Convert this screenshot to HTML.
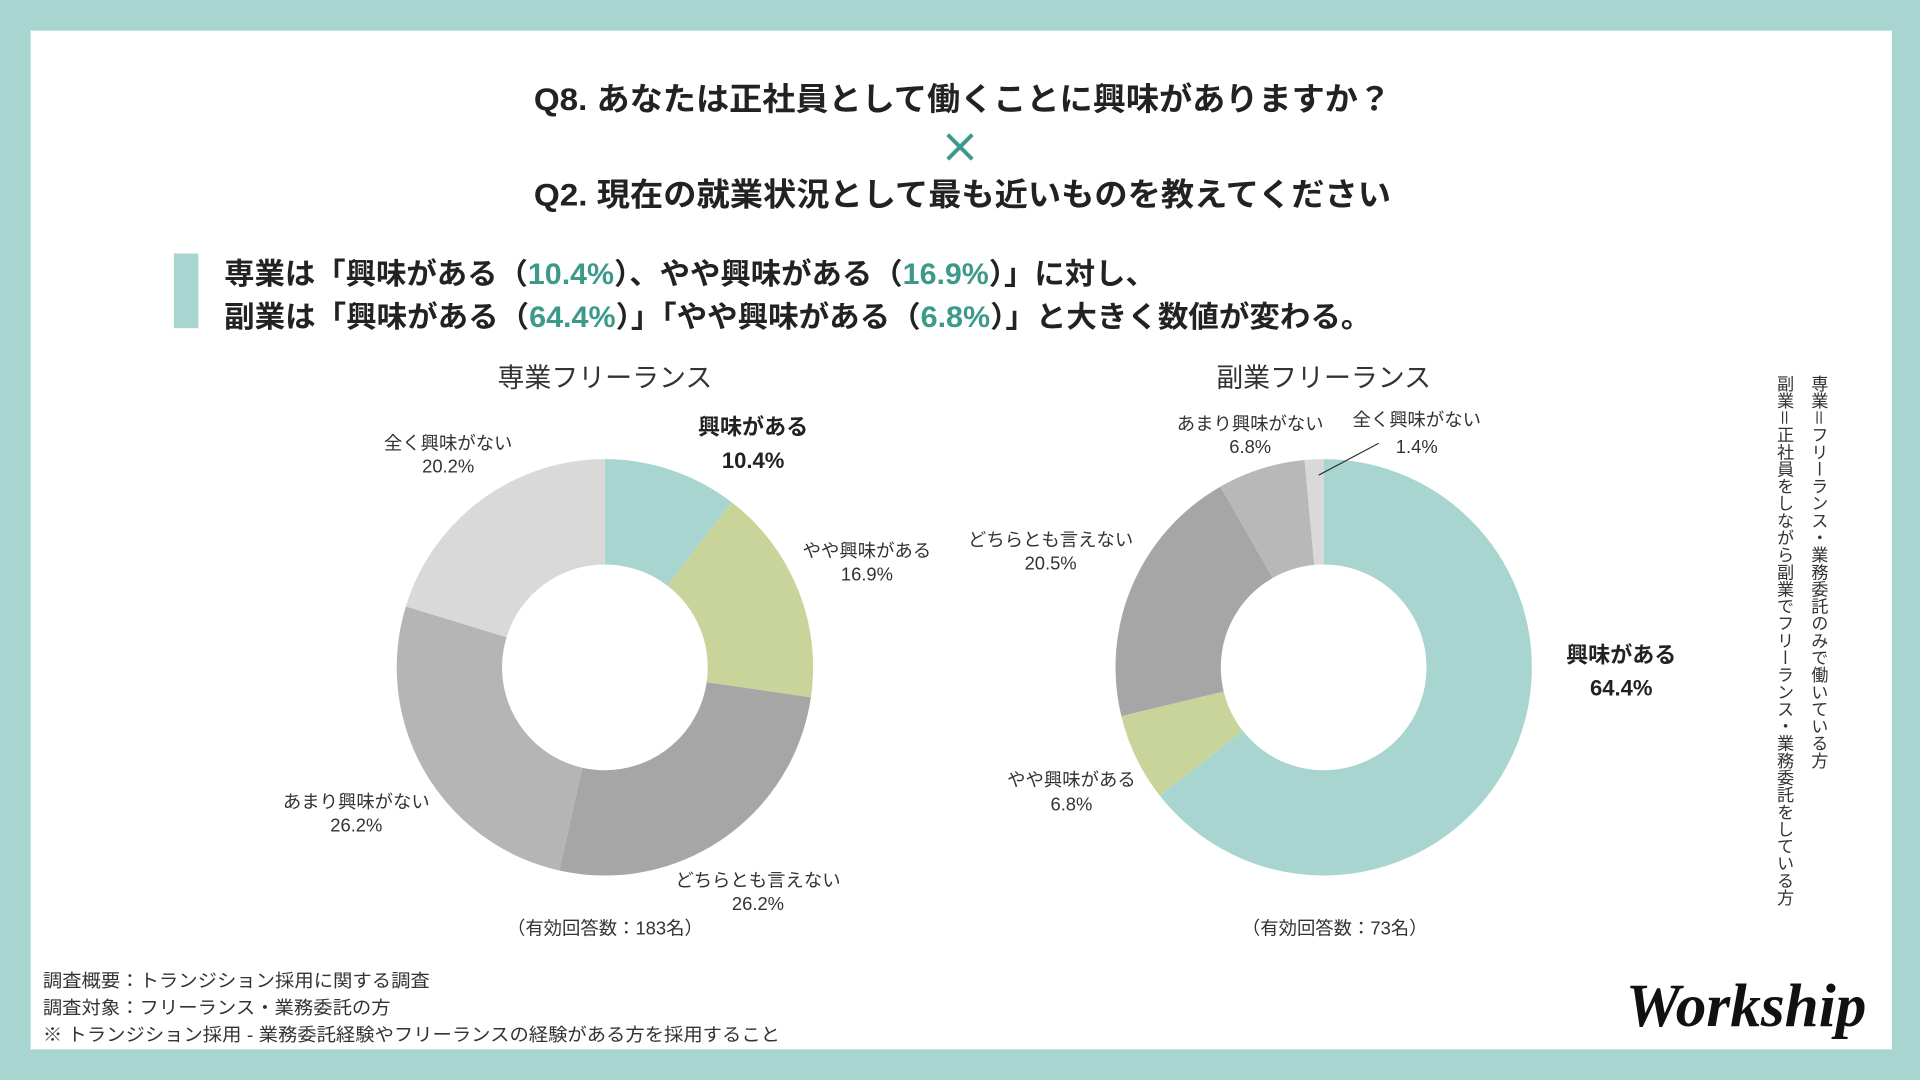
<!DOCTYPE html>
<html><head><meta charset="utf-8"><style>
html,body{margin:0;padding:0;background:#a8d5cf;}
svg{display:block;font-family:"Liberation Sans","Noto Sans CJK JP",sans-serif;}
</style></head><body>
<svg width="1920" height="1080" viewBox="0 0 1568 882" preserveAspectRatio="none" xmlns="http://www.w3.org/2000/svg">
<rect x="0" y="0" width="1568" height="882" fill="#a8d5cf"/>
<rect x="25" y="25" width="1520" height="832" fill="#ffffff"/>
<g font-weight="bold" fill="#222" font-size="26">
<text x="436" y="90" textLength="700" lengthAdjust="spacingAndGlyphs">Q8. あなたは正社員として働くことに興味がありますか？</text>
<text x="436" y="168" textLength="700" lengthAdjust="spacingAndGlyphs">Q2. 現在の就業状況として最も近いものを教えてください</text>
</g>
<g stroke="#3d9a8a" stroke-width="3.2">
<line x1="774" y1="110" x2="794" y2="130"/><line x1="794" y1="110" x2="774" y2="130"/>
</g>
<rect x="142" y="207" width="20" height="61" fill="#a8d5cf"/>
<g font-weight="bold" fill="#222" font-size="24">
<text x="183" y="232" textLength="761" lengthAdjust="spacingAndGlyphs">専業は「興味がある（<tspan fill="#3d9a8a">10.4%</tspan>）、やや興味がある（<tspan fill="#3d9a8a">16.9%</tspan>）」に対し、</text>
<text x="183" y="267" textLength="937" lengthAdjust="spacingAndGlyphs">副業は「興味がある（<tspan fill="#3d9a8a">64.4%</tspan>）」「やや興味がある（<tspan fill="#3d9a8a">6.8%</tspan>）」と大きく数値が変わる。</text>
</g>
<g text-anchor="middle" fill="#333" font-size="22">
<text x="494" y="316">専業フリーランス</text>
<text x="1081" y="316">副業フリーランス</text>
</g>
<g fill="none" stroke-width="86" transform="rotate(-90 494 545)">
<circle cx="494" cy="545" r="127" stroke="#a8d5cf" stroke-dasharray="82.99 797.96" stroke-dashoffset="0"/>
<circle cx="494" cy="545" r="127" stroke="#c8d49a" stroke-dasharray="134.86 797.96" stroke-dashoffset="-82.99"/>
<circle cx="494" cy="545" r="127" stroke="#a6a6a6" stroke-dasharray="209.07 797.96" stroke-dashoffset="-217.85"/>
<circle cx="494" cy="545" r="127" stroke="#b5b5b5" stroke-dasharray="209.07 797.96" stroke-dashoffset="-426.92"/>
<circle cx="494" cy="545" r="127" stroke="#d9d9d9" stroke-dasharray="161.97 797.96" stroke-dashoffset="-635.99"/>
</g>
<g fill="none" stroke-width="86" transform="rotate(-90 1081 545)">
<circle cx="1081" cy="545" r="127" stroke="#a8d5cf" stroke-dasharray="513.89 797.96" stroke-dashoffset="0"/>
<circle cx="1081" cy="545" r="127" stroke="#c8d49a" stroke-dasharray="54.26 797.96" stroke-dashoffset="-513.89"/>
<circle cx="1081" cy="545" r="127" stroke="#a6a6a6" stroke-dasharray="163.58 797.96" stroke-dashoffset="-568.15"/>
<circle cx="1081" cy="545" r="127" stroke="#b8b8b8" stroke-dasharray="54.26 797.96" stroke-dashoffset="-731.73"/>
<circle cx="1081" cy="545" r="127" stroke="#d9d9d9" stroke-dasharray="11.97 797.96" stroke-dashoffset="-785.99"/>
</g>
<line x1="1126" y1="362" x2="1077" y2="388" stroke="#333" stroke-width="1"/>
<g text-anchor="middle" fill="#333" font-size="15">
<text x="615" y="355" font-weight="bold" font-size="18" fill="#222">興味がある</text>
<text x="615" y="382" font-weight="bold" font-size="18" fill="#222">10.4%</text>
<text x="708" y="455">やや興味がある</text><text x="708" y="474">16.9%</text>
<text x="366" y="367">全く興味がない</text><text x="366" y="386">20.2%</text>
<text x="291" y="660">あまり興味がない</text><text x="291" y="679">26.2%</text>
<text x="619" y="724">どちらとも言えない</text><text x="619" y="743">26.2%</text>
<text x="494" y="763" font-size="15">（有効回答数：183名）</text>
<text x="1021" y="351">あまり興味がない</text><text x="1021" y="370">6.8%</text>
<text x="1157" y="348">全く興味がない</text><text x="1157" y="370">1.4%</text>
<text x="858" y="446">どちらとも言えない</text><text x="858" y="465">20.5%</text>
<text x="1324" y="541" font-weight="bold" font-size="18" fill="#222">興味がある</text>
<text x="1324" y="568" font-weight="bold" font-size="18" fill="#222">64.4%</text>
<text x="875" y="642">やや興味がある</text><text x="875" y="662">6.8%</text>
<text x="1090" y="763" font-size="15">（有効回答数：73名）</text>
</g>
<g fill="#333" font-size="14" style="writing-mode:vertical-rl">
<text x="1485" y="306">専業＝フリーランス・業務委託のみで働いている方</text>
<text x="1457" y="306">副業＝正社員をしながら副業でフリーランス・業務委託をしている方</text>
</g>
<g fill="#333" font-size="15">
<text x="35" y="806" textLength="316" lengthAdjust="spacingAndGlyphs">調査概要：トランジション採用に関する調査</text>
<text x="35" y="828" textLength="284" lengthAdjust="spacingAndGlyphs">調査対象：フリーランス・業務委託の方</text>
<text x="35" y="850" textLength="602" lengthAdjust="spacingAndGlyphs">※ トランジション採用 - 業務委託経験やフリーランスの経験がある方を採用すること</text>
</g>
<text x="1426" y="838" text-anchor="middle" font-family="Liberation Serif,serif" font-style="italic" font-weight="bold" font-size="50" fill="#111">Workship</text>
</svg>
</body></html>
